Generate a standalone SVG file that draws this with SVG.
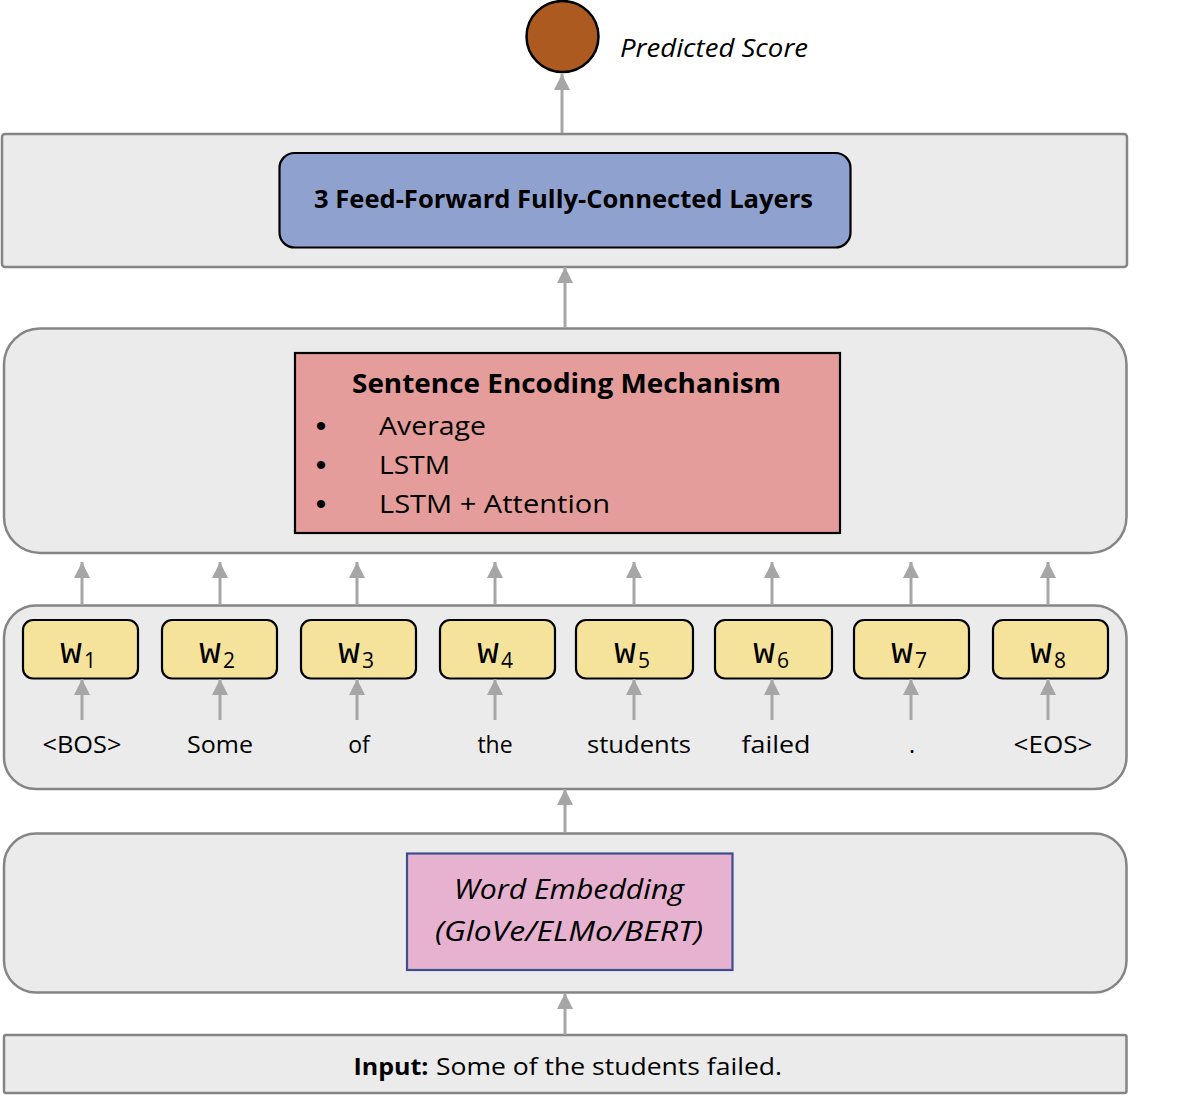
<svg xmlns="http://www.w3.org/2000/svg" width="1180" height="1102" viewBox="0 0 1180 1102">
<defs>
<style>
.panel{fill:#ebebeb;stroke:#858585;stroke-width:2.5}
.conn{stroke:#a6a6a6;stroke-width:3;fill:none;marker-end:url(#arr)}
.t{font-family:"Open Sans","Liberation Sans",sans-serif;fill:#000}
.b{font-weight:bold}
.i{font-style:italic}
.wbox{fill:#f6e39b;stroke:#000;stroke-width:2.2}
.tok{font-family:"Open Sans","Liberation Sans",sans-serif;font-size:23px;text-anchor:middle}
.bul{font-family:"Liberation Sans",sans-serif;font-size:30px;text-anchor:middle}
</style>
<marker id="arr" markerUnits="userSpaceOnUse" markerWidth="17" markerHeight="17" refX="16" refY="8" orient="auto">
<path d="M0,0 L16,8 L0,16 z" fill="#a6a6a6"/>
</marker>
</defs>
<rect width="1180" height="1102" fill="#ffffff"/>

<g id="predicted-score">
<ellipse cx="562.5" cy="36.5" rx="36" ry="35.5" fill="#ad5a20" stroke="#000" stroke-width="2.5"/>
<text class="t i" x="620" y="57" font-size="25" textLength="188" lengthAdjust="spacingAndGlyphs">Predicted Score</text>
</g>

<g id="ff-panel">
<rect class="panel" x="2" y="134" width="1125" height="133" rx="3"/>
<rect x="279.5" y="153" width="571" height="94.5" rx="15" fill="#8fa2cf" stroke="#000" stroke-width="2.2"/>
<text class="t b" x="563.5" y="208" font-size="25" text-anchor="middle" textLength="499" lengthAdjust="spacingAndGlyphs">3 Feed-Forward Fully-Connected Layers</text>
</g>

<g id="encoding-panel">
<rect class="panel" x="4" y="328.5" width="1122.5" height="224.5" rx="36"/>
<rect x="295" y="353" width="545" height="180" fill="#e49d9b" stroke="#000" stroke-width="2.2"/>
<text class="t b" x="352" y="393" font-size="26" textLength="429" lengthAdjust="spacingAndGlyphs">Sentence Encoding Mechanism</text>
<text class="bul" x="321" y="436">•</text>
<text class="t" x="379" y="435" font-size="26" textLength="107" lengthAdjust="spacingAndGlyphs">Average</text>
<text class="bul" x="321" y="475">•</text>
<text class="t" x="379" y="474" font-size="26" textLength="71" lengthAdjust="spacingAndGlyphs">LSTM</text>
<text class="bul" x="321" y="514">•</text>
<text class="t" x="379" y="513" font-size="26" textLength="231" lengthAdjust="spacingAndGlyphs">LSTM + Attention</text>
</g>

<g id="word-panel">
<rect class="panel" x="4" y="605.5" width="1122.5" height="183.5" rx="32"/>
<text class="tok" x="82" y="753" textLength="79" lengthAdjust="spacingAndGlyphs">&lt;BOS&gt;</text>
<text class="tok" x="220" y="753" textLength="66" lengthAdjust="spacingAndGlyphs">Some</text>
<text class="tok" x="359" y="753">of</text>
<text class="tok" x="495" y="753">the</text>
<text class="tok" x="639" y="753" textLength="104" lengthAdjust="spacingAndGlyphs">students</text>
<text class="tok" x="776" y="753" textLength="69" lengthAdjust="spacingAndGlyphs">failed</text>
<text class="tok" x="912" y="753">.</text>
<text class="tok" x="1053" y="753" textLength="79" lengthAdjust="spacingAndGlyphs">&lt;EOS&gt;</text>
</g>

<g id="w1">
<rect class="wbox" x="23" y="620" width="115" height="58.5" rx="10"/>
<text x="71" y="663" text-anchor="middle" font-family="'Liberation Mono','Courier New',monospace" font-size="36">w</text>
<text x="84" y="668" font-family="'Open Sans',sans-serif" font-size="21">1</text>
</g>
<g id="w2">
<rect class="wbox" x="162" y="620" width="115" height="58.5" rx="10"/>
<text x="210" y="663" text-anchor="middle" font-family="'Liberation Mono','Courier New',monospace" font-size="36">w</text>
<text x="223" y="668" font-family="'Open Sans',sans-serif" font-size="21">2</text>
</g>
<g id="w3">
<rect class="wbox" x="301" y="620" width="115" height="58.5" rx="10"/>
<text x="349" y="663" text-anchor="middle" font-family="'Liberation Mono','Courier New',monospace" font-size="36">w</text>
<text x="362" y="668" font-family="'Open Sans',sans-serif" font-size="21">3</text>
</g>
<g id="w4">
<rect class="wbox" x="440" y="620" width="115" height="58.5" rx="10"/>
<text x="488" y="663" text-anchor="middle" font-family="'Liberation Mono','Courier New',monospace" font-size="36">w</text>
<text x="501" y="668" font-family="'Open Sans',sans-serif" font-size="21">4</text>
</g>
<g id="w5">
<rect class="wbox" x="576" y="620" width="117" height="58.5" rx="10"/>
<text x="625" y="663" text-anchor="middle" font-family="'Liberation Mono','Courier New',monospace" font-size="36">w</text>
<text x="638" y="668" font-family="'Open Sans',sans-serif" font-size="21">5</text>
</g>
<g id="w6">
<rect class="wbox" x="715" y="620" width="117" height="58.5" rx="10"/>
<text x="764" y="663" text-anchor="middle" font-family="'Liberation Mono','Courier New',monospace" font-size="36">w</text>
<text x="777" y="668" font-family="'Open Sans',sans-serif" font-size="21">6</text>
</g>
<g id="w7">
<rect class="wbox" x="854" y="620" width="115" height="58.5" rx="10"/>
<text x="902" y="663" text-anchor="middle" font-family="'Liberation Mono','Courier New',monospace" font-size="36">w</text>
<text x="915" y="668" font-family="'Open Sans',sans-serif" font-size="21">7</text>
</g>
<g id="w8">
<rect class="wbox" x="993" y="620" width="115" height="58.5" rx="10"/>
<text x="1041" y="663" text-anchor="middle" font-family="'Liberation Mono','Courier New',monospace" font-size="36">w</text>
<text x="1054" y="668" font-family="'Open Sans',sans-serif" font-size="21">8</text>
</g>

<g id="embedding-panel">
<rect class="panel" x="4" y="833.5" width="1122.5" height="159" rx="32"/>
<rect x="407" y="853.5" width="325.5" height="116.5" fill="#e6b2cf" stroke="#3c4e8e" stroke-width="2.2"/>
<text class="t i" x="569" y="899" font-size="27" text-anchor="middle" textLength="230" lengthAdjust="spacingAndGlyphs">Word Embedding</text>
<text class="t i" x="569" y="941" font-size="27" text-anchor="middle" textLength="268" lengthAdjust="spacingAndGlyphs">(GloVe/ELMo/BERT)</text>
</g>

<g id="input-panel">
<rect class="panel" x="4" y="1035" width="1122.5" height="58" rx="2"/>
<text class="t b" x="353.5" y="1075" font-size="24" textLength="75" lengthAdjust="spacingAndGlyphs">Input:</text>
<text class="t" x="436" y="1075" font-size="24" textLength="346" lengthAdjust="spacingAndGlyphs">Some of the students failed.</text>
</g>

<g id="connectors">
<line class="conn" x1="562" y1="133" x2="562" y2="74"/>
<line class="conn" x1="565" y1="328" x2="565" y2="267"/>
<line class="conn" x1="82" y1="605" x2="82" y2="562"/>
<line class="conn" x1="220" y1="605" x2="220" y2="562"/>
<line class="conn" x1="357" y1="605" x2="357" y2="562"/>
<line class="conn" x1="495" y1="605" x2="495" y2="562"/>
<line class="conn" x1="634" y1="605" x2="634" y2="562"/>
<line class="conn" x1="772" y1="605" x2="772" y2="562"/>
<line class="conn" x1="911" y1="605" x2="911" y2="562"/>
<line class="conn" x1="1048" y1="605" x2="1048" y2="562"/>
<line class="conn" x1="565" y1="833" x2="565" y2="789"/>
<line class="conn" x1="565" y1="1035" x2="565" y2="993"/>
<line class="conn" x1="82" y1="720" x2="82" y2="679"/>
<line class="conn" x1="220" y1="720" x2="220" y2="679"/>
<line class="conn" x1="357" y1="720" x2="357" y2="679"/>
<line class="conn" x1="495" y1="720" x2="495" y2="679"/>
<line class="conn" x1="634" y1="720" x2="634" y2="679"/>
<line class="conn" x1="772" y1="720" x2="772" y2="679"/>
<line class="conn" x1="911" y1="720" x2="911" y2="679"/>
<line class="conn" x1="1048" y1="720" x2="1048" y2="679"/>
</g>
</svg>
